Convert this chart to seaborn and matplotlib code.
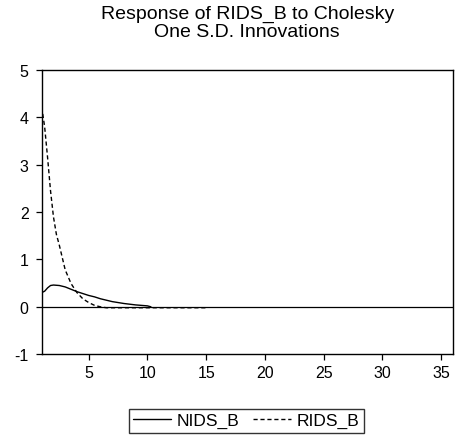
import numpy as np
import pandas as pd
import matplotlib
matplotlib.use('Agg')
import matplotlib.pyplot as plt
import seaborn as sns

# DATA (impulse responses, periods 1..36)

nids_period = [1, 1.25, 1.5, 1.75, 2, 2.5, 3, 3.5, 4, 4.5, 5, 5.5, 6, 7, 8, 9, 10, 10.3]
nids_values = [0.30, 0.33, 0.40, 0.45, 0.46, 0.45, 0.42, 0.37, 0.32, 0.28, 0.24, 0.21, 0.17, 0.11, 0.07, 0.04, 0.02, 0.0]

rids_period = [1, 1.25, 1.5, 1.75, 2, 2.25, 2.5, 3, 3.5, 4, 4.5, 5, 5.5, 6, 6.5, 7, 8, 9, 10, 11, 12, 13, 14, 15]
rids_values = [4.22, 3.80, 3.15, 2.45, 1.90, 1.53, 1.30, 0.78, 0.49, 0.30, 0.17, 0.09, 0.03, 0.0,
               -0.02, -0.02, -0.02, -0.02, -0.02, -0.02, -0.02, -0.02, -0.02, -0.02]

x_ticks = [5, 10, 15, 20, 25, 30, 35]
y_ticks = [-1, 0, 1, 2, 3, 4, 5]

df_nids = pd.DataFrame({'Period': nids_period, 'Response': nids_values})
df_rids = pd.DataFrame({'Period': rids_period, 'Response': rids_values})

# PLOT

sns.set_style('white')
plt.rcParams['font.family'] = ['Liberation Sans', 'DejaVu Sans']
plt.rcParams['text.color'] = 'black'
plt.rcParams['axes.unicode_minus'] = False

fig = plt.figure(figsize=(4.62, 4.39), dpi=100)
ax = fig.add_axes([0.0903, 0.191, 0.8897, 0.647])

sns.lineplot(x='Period', y='Response', data=df_nids, color='black', linewidth=1.0,
             label='NIDS_B', ax=ax)
sns.lineplot(x='Period', y='Response', data=df_rids, color='black', linewidth=1.0,
             dashes=False, label='RIDS_B', ax=ax)
ax.lines[1].set_linestyle((0, (3, 2)))
ax.axhline(0, color='black', linewidth=0.9, zorder=1)

ax.set_xlim(1, 36)
ax.set_ylim(-1, 5)
ax.set_xticks(x_ticks)
ax.set_yticks(y_ticks)
ax.set_xlabel('')
ax.set_ylabel('')
ax.tick_params(axis='both', direction='out', length=4.5, width=0.9, colors='black',
               labelsize=11.5, left=True, bottom=True)
ax.tick_params(axis='y', pad=5)
ax.tick_params(axis='x', pad=3)
for sp in ax.spines.values():
    sp.set_color('black')
    sp.set_linewidth(1.0)

fig.text(0.535, 0.987, 'Response of RIDS_B to Cholesky\nOne S.D. Innovations',
         ha='center', va='top', fontsize=14, linespacing=1.12, color='black')

ax.legend(loc='lower center', bbox_to_anchor=(0.533, 0.0), bbox_transform=fig.transFigure,
          ncol=2, frameon=True, fancybox=False, edgecolor='black', fontsize=12.5,
          handlelength=2.2, handletextpad=0.3, columnspacing=0.8, borderpad=0.25,
          borderaxespad=0.3)
leg = ax.get_legend()
leg.get_frame().set_linewidth(1.0)
for t in leg.get_texts():
    t.set_color('black')

plt.savefig('out.png', dpi=100)
